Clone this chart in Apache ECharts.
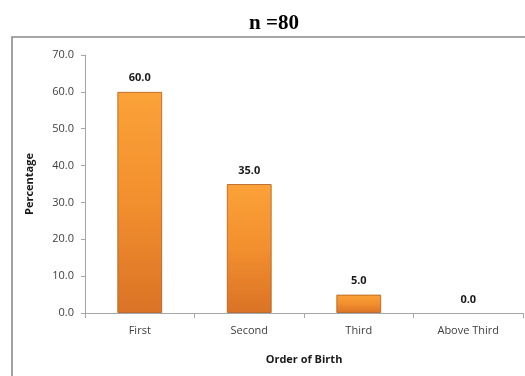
<!DOCTYPE html>
<html>
<head>
<meta charset="utf-8">
<script src="https://cdn.jsdelivr.net/npm/echarts@6/dist/echarts.min.js"></script>
<style>
  html, body { margin: 0; padding: 0; background: #fff; }
  #chart { width: 525px; height: 376px; }
</style>
</head>
<body>
<div id="chart"></div>
<script>
// Birth order distribution (percentage of respondents)
const categories = ['First', 'Second', 'Third', 'Above Third'];
const percentages = [60.0, 35.0, 5.0, 0.0];
const titleText = 'n =80';
const yAxisName = 'Percentage';
const xAxisName = 'Order of Birth';

const labelFont = '"Open Sans", "Noto Sans", sans-serif';

const chart = echarts.init(document.getElementById('chart'), null, { renderer: 'canvas' });

const barFill = new echarts.graphic.LinearGradient(0, 0, 0, 1, [
  { offset: 0, color: '#FBA238' },
  { offset: 0.5, color: '#F28F2E' },
  { offset: 1, color: '#DA7326' }
]);

// zero-valued bars get no outline so nothing is drawn for them
const barData = percentages.map(v => ({
  value: v,
  itemStyle: { borderWidth: v === 0 ? 0 : 1 }
}));

chart.setOption({
  animation: false,
  backgroundColor: '#ffffff',
  graphic: [
    {
      type: 'rect',
      shape: { x: 12, y: 37, width: 620, height: 400 },
      style: { fill: 'none', stroke: '#8a8a8a', lineWidth: 1.6 },
      z: 0
    },
    {
      type: 'text',
      x: 274,
      y: 13,
      style: {
        text: titleText,
        font: 'bold 21px "Liberation Serif", "Times New Roman", serif',
        fill: '#000',
        textAlign: 'center',
        textVerticalAlign: 'top'
      }
    }
  ],
  grid: { left: 85, right: 2, top: 55, bottom: 63, containLabel: false },
  xAxis: {
    type: 'category',
    data: categories,
    name: xAxisName,
    nameLocation: 'middle',
    nameGap: 41,
    nameTextStyle: { fontFamily: labelFont, fontWeight: 'bold', fontSize: 11, color: '#1a1a1a' },
    axisLine: { lineStyle: { color: '#A6A6A6', width: 1 } },
    axisTick: { show: true, alignWithLabel: false, length: 5, lineStyle: { color: '#A6A6A6' } },
    axisLabel: { fontFamily: labelFont, fontSize: 11, color: '#404040', margin: 12 },
    splitLine: { show: false }
  },
  yAxis: {
    type: 'value',
    min: 0,
    max: 70,
    interval: 10,
    name: yAxisName,
    nameLocation: 'middle',
    nameGap: 50,
    nameRotate: 90,
    nameTextStyle: { fontFamily: labelFont, fontWeight: 'bold', fontSize: 11, color: '#1a1a1a' },
    axisLine: { show: true, lineStyle: { color: '#A6A6A6', width: 1 } },
    axisTick: { show: true, length: 4, lineStyle: { color: '#A6A6A6' } },
    axisLabel: {
      fontFamily: labelFont, fontSize: 11, color: '#404040', margin: 11,
      formatter: v => v.toFixed(1)
    },
    splitLine: { show: false }
  },
  series: [{
    type: 'bar',
    data: barData,
    barWidth: '41%',
    itemStyle: {
      color: barFill,
      borderColor: 'rgba(170, 85, 20, 0.75)',
      borderWidth: 1
    },
    label: {
      show: true,
      position: 'top',
      distance: 8,
      fontFamily: labelFont,
      fontWeight: 'bold',
      fontSize: 11,
      color: '#1a1a1a',
      formatter: p => p.value.toFixed(1)
    }
  }]
});
</script>
</body>
</html>
